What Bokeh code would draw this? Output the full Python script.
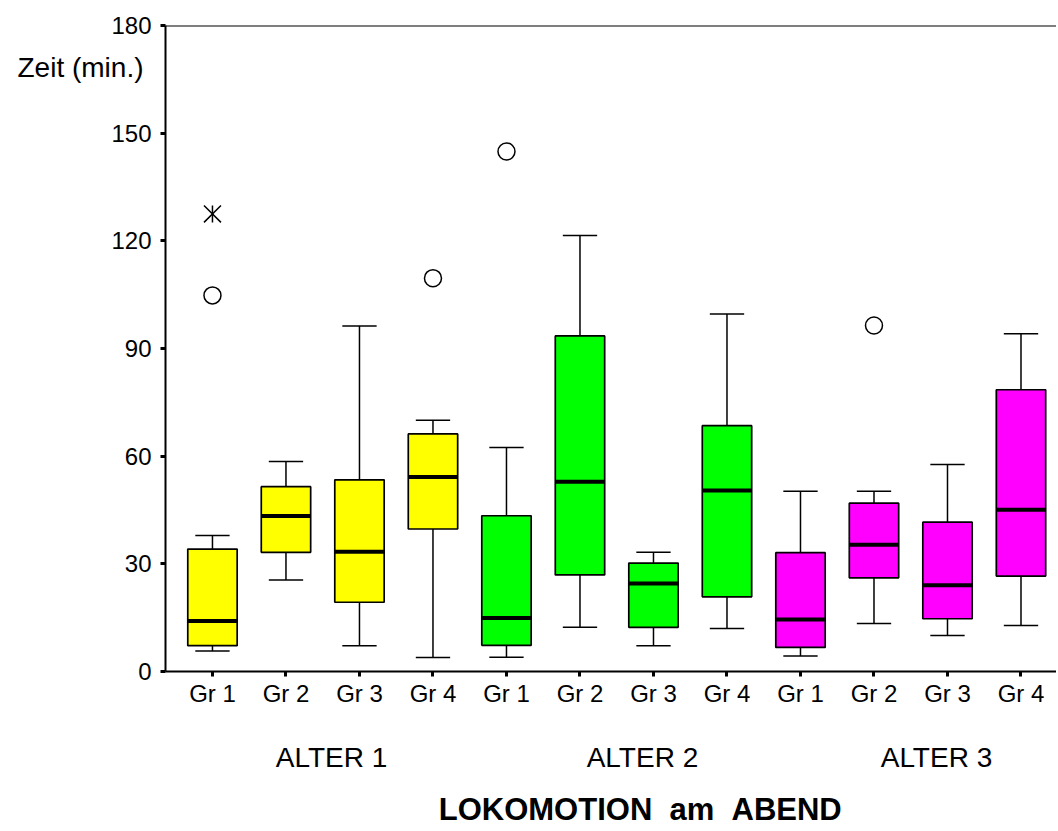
from bokeh.plotting import figure
from bokeh.models import Span, FixedTicker, LinearAxis
from bokeh.embed import file_html
from bokeh.resources import INLINE

# ---- data ----
groups = ["Gr 1", "Gr 2", "Gr 3", "Gr 4"] * 3
ages = ["ALTER 1", "ALTER 2", "ALTER 3"]
age_colors = ["#FFFF00", "#00FF00", "#FF00FF"]

whisker_lo = [5.7, 25.5, 7.2, 3.9, 4.0, 12.3, 7.2, 12.0, 4.3, 13.4, 10.0, 12.8]
q1 = [7.2, 33.2, 19.3, 39.7, 7.3, 26.9, 12.3, 20.8, 6.7, 26.1, 14.7, 26.6]
median = [14.1, 43.3, 33.4, 54.2, 14.9, 52.9, 24.5, 50.4, 14.5, 35.3, 24.0, 45.1]
q3 = [34.1, 51.5, 53.4, 66.2, 43.4, 93.5, 30.2, 68.5, 33.1, 46.9, 41.6, 78.5]
whisker_hi = [37.9, 58.5, 96.3, 70.0, 62.4, 121.5, 33.2, 99.6, 50.2, 50.2, 57.7, 94.1]

# outliers: (box index, value)
outlier_idx = [0, 3, 4, 9]
outlier_val = [104.8, 109.6, 144.9, 96.4]
extreme_idx = [0]
extreme_val = [127.5]

y_ticks = [0, 30, 60, 90, 120, 150, 180]
y_label = "Zeit (min.)"
x_title = "LOKOMOTION \u00a0am \u00a0ABEND"

# ---- layout ----
FONT = "Liberation Sans"
n = len(groups)
xs = list(range(n))
colors = [age_colors[i // 4] for i in xs]
box_w = 0.672
cap_w = 0.467

p = figure(width=1056, height=829, output_backend="svg", toolbar_location=None,
           x_range=(-0.639, 11.483), y_range=(0, 180),
           min_border_left=165, min_border_right=0, min_border_top=25, min_border_bottom=158)
p.outline_line_color = None
p.xgrid.visible = False
p.ygrid.visible = False

# whiskers
p.segment(x0=xs, x1=xs, y0=q3, y1=whisker_hi, line_color="black", line_width=1.5)
p.segment(x0=xs, x1=xs, y0=whisker_lo, y1=q1, line_color="black", line_width=1.5)
p.segment(x0=[x - cap_w / 2 for x in xs], x1=[x + cap_w / 2 for x in xs],
          y0=whisker_hi, y1=whisker_hi, line_color="black", line_width=1.5)
p.segment(x0=[x - cap_w / 2 for x in xs], x1=[x + cap_w / 2 for x in xs],
          y0=whisker_lo, y1=whisker_lo, line_color="black", line_width=1.5)
# boxes
p.vbar(x=xs, width=box_w, bottom=q1, top=q3, fill_color=colors,
       line_color="black", line_width=1.7)
# medians
p.segment(x0=[x - box_w / 2 for x in xs], x1=[x + box_w / 2 for x in xs],
          y0=median, y1=median, line_color="black", line_width=4)
# outliers
p.scatter(x=outlier_idx, y=outlier_val, marker="circle", size=17,
          fill_color="white", line_color="black", line_width=1.5)
p.scatter(x=extreme_idx, y=extreme_val, marker="x", size=24,
          line_color="black", line_width=1.5)
p.scatter(x=extreme_idx, y=extreme_val, marker="dash", angle=1.5708, size=17,
          line_color="black", line_width=1.5)

# top border line
p.add_layout(Span(location=180, dimension="width", line_color="black", line_width=2))

# main axes
for ax in (p.xaxis[0], p.yaxis[0]):
    ax.axis_line_width = 2
    ax.axis_line_color = "black"
    ax.major_tick_out = 5
    ax.major_tick_in = 0
    ax.major_tick_line_width = 3
    ax.minor_tick_line_color = None
    ax.major_label_text_font = FONT
    ax.major_label_text_font_size = "24px"
    ax.major_label_text_color = "black"

p.yaxis[0].ticker = FixedTicker(ticks=y_ticks)
p.yaxis[0].major_label_standoff = 9
p.xaxis[0].ticker = FixedTicker(ticks=xs)
p.xaxis[0].major_label_overrides = {i: g for i, g in enumerate(groups)}
p.xaxis[0].major_label_standoff = 3


def text_axis(ticks, labels, size, standoff, style="normal"):
    ax = LinearAxis(ticker=FixedTicker(ticks=ticks),
                    major_label_overrides={t: l for t, l in zip(ticks, labels)})
    ax.axis_line_color = None
    ax.major_tick_line_color = None
    ax.minor_tick_line_color = None
    ax.major_tick_out = 0
    ax.major_tick_in = 0
    ax.major_label_standoff = standoff
    ax.major_label_text_font = FONT
    ax.major_label_text_font_size = size
    ax.major_label_text_font_style = style
    ax.major_label_text_color = "black"
    return ax


# y label (horizontal, top-left), as an extra outer axis on the left
p.add_layout(text_axis([168.3], [y_label], "28px", -35), "left")

# age group labels and x title as extra axes below
age_pos = [1.62, 5.85, 9.85]
p.add_layout(text_axis(age_pos, ages, "28px", 32), "below")
p.add_layout(text_axis([5.82], [x_title], "31px", 16, "bold"), "below")

open("out.html", "w").write(file_html(p, INLINE))
